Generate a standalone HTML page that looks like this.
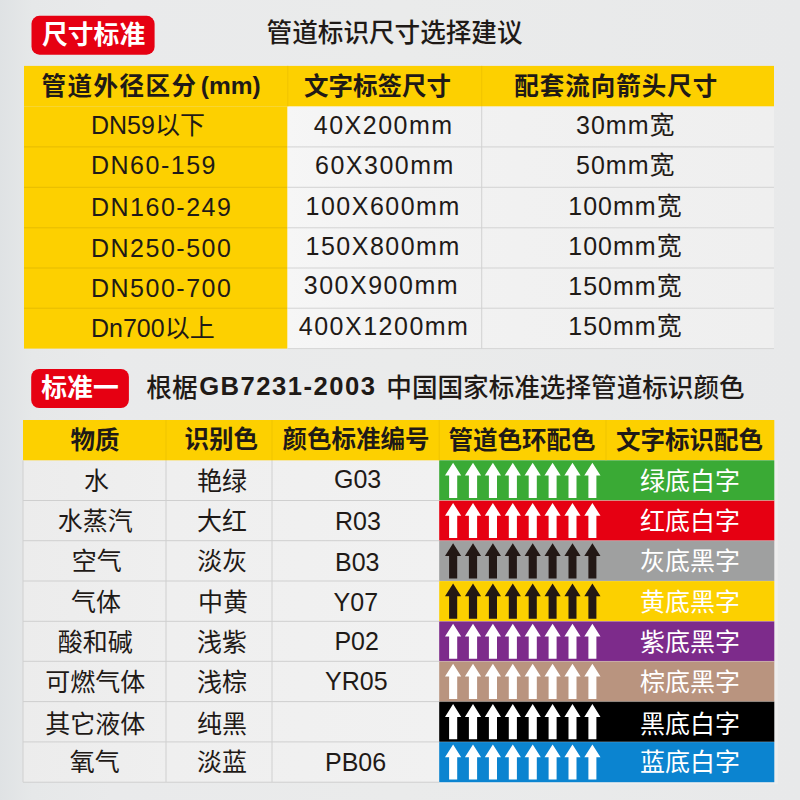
<!DOCTYPE html>
<html lang="zh-CN"><head><meta charset="utf-8"><title>管道标识尺寸选择建议</title>
<style>
html,body{margin:0;padding:0}
body{width:800px;height:800px;overflow:hidden;font-family:"Liberation Sans","Noto Sans CJK SC",sans-serif;background:#e9eaeb}
#page{position:relative;width:800px;height:800px;overflow:hidden;background:linear-gradient(90deg,#dfe2e4 0,#e6e8e9 4%,#e9eaeb 14%,#eaebeb 50%,#e8e9ea 100%)}
#page div,#page span{position:absolute;box-sizing:border-box}
.badge{background:#e60012;border-radius:8px}
.yel{background:#fdd000}
.cell{background:linear-gradient(90deg,#f6f6f6 0,#f2f2f2 25%,#f0f0f0 70%,#efefef 100%)}
.cell.c2{background:linear-gradient(90deg,#ececec 0,#efefef 35%,#f1f1f1 100%)}
.t{color:#1f1a17;white-space:nowrap;line-height:1;overflow:visible;font-family:"Liberation Sans","Noto Sans CJK SC",sans-serif}
.t.w{color:#fff}
#ink{position:absolute;left:0;top:0}
</style></head><body><div id="page">
<div class="cell" style="left:287.3px;top:106.3px;width:486.7px;height:242.3px"></div>
<div class="cell c2" style="left:23px;top:460.3px;width:416.2px;height:321.9px"></div>
<svg id="ink" width="800" height="800" viewBox="0 0 800 800">
<rect x="31.5" y="15.8" width="123.1" height="38.9" rx="8" fill="#e60012"/>
<rect x="31.2" y="368.9" width="97.7" height="39.2" rx="8" fill="#e60012"/>
<rect x="24" y="65.9" width="750" height="40.4" fill="#fdd000"/>
<rect x="24" y="106.3" width="263.3" height="242.3" fill="#fdd000"/>
<rect x="23" y="420" width="751.3" height="40.3" fill="#fdd000"/>
<rect x="439.2" y="460.3" width="338.6" height="323.9" fill="#eeeeee"/>
<rect x="439.2" y="460.3" width="335.1" height="40.2" fill="#3aaa35"/>
<rect x="439.2" y="500.5" width="335.1" height="40.2" fill="#e60012"/>
<rect x="439.2" y="540.7" width="335.1" height="40.3" fill="#9fa0a0"/>
<rect x="439.2" y="581" width="335.1" height="40.3" fill="#fcd000"/>
<rect x="439.2" y="621.3" width="335.1" height="40" fill="#7d2b8b"/>
<rect x="439.2" y="661.3" width="335.1" height="40.3" fill="#b9947f"/>
<rect x="439.2" y="701.6" width="335.1" height="40.3" fill="#000000"/>
<rect x="439.2" y="741.9" width="335.1" height="40.3" fill="#0b84d0"/>
<rect x="24" y="146.4" width="263.3" height="1" fill="#e6bc00"/>
<rect x="287.3" y="146.4" width="486.7" height="1" fill="#d3d3d3"/>
<rect x="24" y="186.8" width="263.3" height="1" fill="#e6bc00"/>
<rect x="287.3" y="186.8" width="486.7" height="1" fill="#d3d3d3"/>
<rect x="24" y="227.3" width="263.3" height="1" fill="#e6bc00"/>
<rect x="287.3" y="227.3" width="486.7" height="1" fill="#d3d3d3"/>
<rect x="24" y="267.5" width="263.3" height="1" fill="#e6bc00"/>
<rect x="287.3" y="267.5" width="486.7" height="1" fill="#d3d3d3"/>
<rect x="24" y="307.7" width="263.3" height="1" fill="#e6bc00"/>
<rect x="287.3" y="307.7" width="486.7" height="1" fill="#d3d3d3"/>
<rect x="287.3" y="348.1" width="486.7" height="1" fill="#d5d5d5"/>
<rect x="481.2" y="106.3" width="1" height="242.3" fill="#d2d2d2"/>
<rect x="287.3" y="65.9" width="1" height="40.4" fill="#f0c400"/>
<rect x="481.2" y="65.9" width="1" height="40.4" fill="#f0c400"/>
<rect x="23" y="500" width="416.2" height="1" fill="#cfcfcf"/>
<rect x="23" y="540.2" width="416.2" height="1" fill="#cfcfcf"/>
<rect x="23" y="580.5" width="416.2" height="1" fill="#cfcfcf"/>
<rect x="23" y="620.8" width="416.2" height="1" fill="#cfcfcf"/>
<rect x="23" y="660.8" width="416.2" height="1" fill="#cfcfcf"/>
<rect x="23" y="701.1" width="416.2" height="1" fill="#cfcfcf"/>
<rect x="23" y="741.4" width="416.2" height="1" fill="#cfcfcf"/>
<rect x="23" y="781.7" width="416.2" height="1" fill="#cfcfcf"/>
<rect x="22.5" y="460.3" width="1" height="321.9" fill="#d0d0d0"/>
<rect x="165.5" y="460.3" width="1" height="321.9" fill="#d0d0d0"/>
<rect x="271.5" y="460.3" width="1" height="321.9" fill="#d0d0d0"/>
<rect x="165.5" y="420" width="1" height="40.3" fill="#f0c400"/>
<rect x="271.5" y="420" width="1" height="40.3" fill="#f0c400"/>
<rect x="438.7" y="420" width="1" height="40.3" fill="#f0c400"/>
<rect x="605.5" y="420" width="1" height="40.3" fill="#f0c400"/>
<rect x="439.2" y="500" width="335.1" height="1" fill="rgba(255,255,255,.3)"/>
<rect x="439.2" y="540.2" width="335.1" height="1" fill="rgba(255,255,255,.18)"/>
<rect x="439.2" y="580.5" width="335.1" height="1" fill="rgba(255,255,255,.18)"/>
<rect x="439.2" y="620.8" width="335.1" height="1" fill="rgba(255,255,255,.18)"/>
<rect x="439.2" y="660.8" width="335.1" height="1" fill="rgba(255,255,255,.18)"/>
<rect x="439.2" y="701.1" width="335.1" height="1" fill="rgba(255,255,255,.18)"/>
<rect x="439.2" y="741.4" width="335.1" height="1" fill="rgba(255,255,255,.18)"/>
<path fill="#fff" d="M453.1 462.8L461.2 475.6H457.2V497.9H449.1V475.6H445.0Z"/>
<path fill="#fff" d="M473.0 462.8L481.1 475.6H477.1V497.9H468.9V475.6H464.9Z"/>
<path fill="#fff" d="M492.9 462.8L501.0 475.6H497.0V497.9H488.9V475.6H484.8Z"/>
<path fill="#fff" d="M512.8 462.8L520.9 475.6H516.9V497.9H508.8V475.6H504.7Z"/>
<path fill="#fff" d="M532.7 462.8L540.8 475.6H536.8V497.9H528.7V475.6H524.6Z"/>
<path fill="#fff" d="M552.6 462.8L560.7 475.6H556.6V497.9H548.6V475.6H544.5Z"/>
<path fill="#fff" d="M572.5 462.8L580.6 475.6H576.5V497.9H568.5V475.6H564.4Z"/>
<path fill="#fff" d="M592.4 462.8L600.5 475.6H596.4V497.9H588.4V475.6H584.3Z"/>
<path fill="#fff" d="M453.1 503.0L461.2 515.8H457.2V538.1H449.1V515.8H445.0Z"/>
<path fill="#fff" d="M473.0 503.0L481.1 515.8H477.1V538.1H468.9V515.8H464.9Z"/>
<path fill="#fff" d="M492.9 503.0L501.0 515.8H497.0V538.1H488.9V515.8H484.8Z"/>
<path fill="#fff" d="M512.8 503.0L520.9 515.8H516.9V538.1H508.8V515.8H504.7Z"/>
<path fill="#fff" d="M532.7 503.0L540.8 515.8H536.8V538.1H528.7V515.8H524.6Z"/>
<path fill="#fff" d="M552.6 503.0L560.7 515.8H556.6V538.1H548.6V515.8H544.5Z"/>
<path fill="#fff" d="M572.5 503.0L580.6 515.8H576.5V538.1H568.5V515.8H564.4Z"/>
<path fill="#fff" d="M592.4 503.0L600.5 515.8H596.4V538.1H588.4V515.8H584.3Z"/>
<path fill="#231815" d="M453.1 543.2L461.2 556.0H457.2V578.4H449.1V556.0H445.0Z"/>
<path fill="#231815" d="M473.0 543.2L481.1 556.0H477.1V578.4H468.9V556.0H464.9Z"/>
<path fill="#231815" d="M492.9 543.2L501.0 556.0H497.0V578.4H488.9V556.0H484.8Z"/>
<path fill="#231815" d="M512.8 543.2L520.9 556.0H516.9V578.4H508.8V556.0H504.7Z"/>
<path fill="#231815" d="M532.7 543.2L540.8 556.0H536.8V578.4H528.7V556.0H524.6Z"/>
<path fill="#231815" d="M552.6 543.2L560.7 556.0H556.6V578.4H548.6V556.0H544.5Z"/>
<path fill="#231815" d="M572.5 543.2L580.6 556.0H576.5V578.4H568.5V556.0H564.4Z"/>
<path fill="#231815" d="M592.4 543.2L600.5 556.0H596.4V578.4H588.4V556.0H584.3Z"/>
<path fill="#231815" d="M453.1 583.5L461.2 596.3H457.2V618.7H449.1V596.3H445.0Z"/>
<path fill="#231815" d="M473.0 583.5L481.1 596.3H477.1V618.7H468.9V596.3H464.9Z"/>
<path fill="#231815" d="M492.9 583.5L501.0 596.3H497.0V618.7H488.9V596.3H484.8Z"/>
<path fill="#231815" d="M512.8 583.5L520.9 596.3H516.9V618.7H508.8V596.3H504.7Z"/>
<path fill="#231815" d="M532.7 583.5L540.8 596.3H536.8V618.7H528.7V596.3H524.6Z"/>
<path fill="#231815" d="M552.6 583.5L560.7 596.3H556.6V618.7H548.6V596.3H544.5Z"/>
<path fill="#231815" d="M572.5 583.5L580.6 596.3H576.5V618.7H568.5V596.3H564.4Z"/>
<path fill="#231815" d="M592.4 583.5L600.5 596.3H596.4V618.7H588.4V596.3H584.3Z"/>
<path fill="#fff" d="M453.1 623.8L461.2 636.6H457.2V658.7H449.1V636.6H445.0Z"/>
<path fill="#fff" d="M473.0 623.8L481.1 636.6H477.1V658.7H468.9V636.6H464.9Z"/>
<path fill="#fff" d="M492.9 623.8L501.0 636.6H497.0V658.7H488.9V636.6H484.8Z"/>
<path fill="#fff" d="M512.8 623.8L520.9 636.6H516.9V658.7H508.8V636.6H504.7Z"/>
<path fill="#fff" d="M532.7 623.8L540.8 636.6H536.8V658.7H528.7V636.6H524.6Z"/>
<path fill="#fff" d="M552.6 623.8L560.7 636.6H556.6V658.7H548.6V636.6H544.5Z"/>
<path fill="#fff" d="M572.5 623.8L580.6 636.6H576.5V658.7H568.5V636.6H564.4Z"/>
<path fill="#fff" d="M592.4 623.8L600.5 636.6H596.4V658.7H588.4V636.6H584.3Z"/>
<path fill="#fff" d="M453.1 663.8L461.2 676.6H457.2V699.0H449.1V676.6H445.0Z"/>
<path fill="#fff" d="M473.0 663.8L481.1 676.6H477.1V699.0H468.9V676.6H464.9Z"/>
<path fill="#fff" d="M492.9 663.8L501.0 676.6H497.0V699.0H488.9V676.6H484.8Z"/>
<path fill="#fff" d="M512.8 663.8L520.9 676.6H516.9V699.0H508.8V676.6H504.7Z"/>
<path fill="#fff" d="M532.7 663.8L540.8 676.6H536.8V699.0H528.7V676.6H524.6Z"/>
<path fill="#fff" d="M552.6 663.8L560.7 676.6H556.6V699.0H548.6V676.6H544.5Z"/>
<path fill="#fff" d="M572.5 663.8L580.6 676.6H576.5V699.0H568.5V676.6H564.4Z"/>
<path fill="#fff" d="M592.4 663.8L600.5 676.6H596.4V699.0H588.4V676.6H584.3Z"/>
<path fill="#fff" d="M453.1 704.1L461.2 716.9H457.2V739.3H449.1V716.9H445.0Z"/>
<path fill="#fff" d="M473.0 704.1L481.1 716.9H477.1V739.3H468.9V716.9H464.9Z"/>
<path fill="#fff" d="M492.9 704.1L501.0 716.9H497.0V739.3H488.9V716.9H484.8Z"/>
<path fill="#fff" d="M512.8 704.1L520.9 716.9H516.9V739.3H508.8V716.9H504.7Z"/>
<path fill="#fff" d="M532.7 704.1L540.8 716.9H536.8V739.3H528.7V716.9H524.6Z"/>
<path fill="#fff" d="M552.6 704.1L560.7 716.9H556.6V739.3H548.6V716.9H544.5Z"/>
<path fill="#fff" d="M572.5 704.1L580.6 716.9H576.5V739.3H568.5V716.9H564.4Z"/>
<path fill="#fff" d="M592.4 704.1L600.5 716.9H596.4V739.3H588.4V716.9H584.3Z"/>
<path fill="#fff" d="M453.1 744.4L461.2 757.2H457.2V779.6H449.1V757.2H445.0Z"/>
<path fill="#fff" d="M473.0 744.4L481.1 757.2H477.1V779.6H468.9V757.2H464.9Z"/>
<path fill="#fff" d="M492.9 744.4L501.0 757.2H497.0V779.6H488.9V757.2H484.8Z"/>
<path fill="#fff" d="M512.8 744.4L520.9 757.2H516.9V779.6H508.8V757.2H504.7Z"/>
<path fill="#fff" d="M532.7 744.4L540.8 757.2H536.8V779.6H528.7V757.2H524.6Z"/>
<path fill="#fff" d="M552.6 744.4L560.7 757.2H556.6V779.6H548.6V757.2H544.5Z"/>
<path fill="#fff" d="M572.5 744.4L580.6 757.2H576.5V779.6H568.5V757.2H564.4Z"/>
<path fill="#fff" d="M592.4 744.4L600.5 757.2H596.4V779.6H588.4V757.2H584.3Z"/>
</svg>
<span class="t w" style="left:42px;top:22.7px;width:104px;height:25.8px;font-size:25.8px;font-weight:bold">尺寸标准</span>
<span class="t w" style="left:41.3px;top:375.9px;width:77.4px;height:25.8px;font-size:25.8px;font-weight:bold">标准一</span>
<span class="t" style="left:266.6px;top:21px;width:264.4px;height:25.6px;font-size:25.6px;font-weight:500">管道标识尺寸选择建议</span>
<span class="t" style="left:146.3px;top:375.6px;width:50.7px;height:25.6px;font-size:25.6px;font-weight:500">根椐</span>
<span class="t" style="left:199.2px;top:374.2px;width:183px;height:25.6px;font-size:25.6px;font-weight:bold;letter-spacing:1.5px">GB7231-2003</span>
<span class="t" style="left:386.3px;top:375.7px;width:368px;height:25.6px;font-size:25.6px;font-weight:500">中国国家标准选择管道标识颜色</span>
<span class="t" style="left:41.4px;top:74.6px;width:157.6px;height:24.5px;font-size:24.5px;font-weight:bold;letter-spacing:1.5px">管道外径区分</span>
<span class="t" style="left:200.8px;top:73.7px;width:71.2px;height:24.5px;font-size:24.5px;font-weight:bold">(mm)</span>
<span class="t" style="left:304px;top:74.6px;width:150px;height:24.5px;font-size:24.5px;font-weight:bold">文字标签尺寸</span>
<span class="t" style="left:514.2px;top:74.6px;width:203.8px;height:24.5px;font-size:24.5px;font-weight:bold;letter-spacing:1px">配套流向箭头尺寸</span>
<span class="t" style="left:91px;top:113px;width:119.3px;height:25px;font-size:25px;font-weight:normal">DN59以下</span>
<span class="t" style="left:313.8px;top:112.8px;width:142.2px;height:25px;font-size:25px;font-weight:normal;letter-spacing:1.5px">40X200mm</span>
<span class="t" style="left:576px;top:112.8px;width:101px;height:25px;font-size:25px;font-weight:normal;letter-spacing:1px">30mm宽</span>
<span class="t" style="left:91px;top:153px;width:126.8px;height:25px;font-size:25px;font-weight:normal;letter-spacing:1.5px">DN60-159</span>
<span class="t" style="left:315px;top:153px;width:141px;height:25px;font-size:25px;font-weight:normal;letter-spacing:1.5px">60X300mm</span>
<span class="t" style="left:576px;top:152.8px;width:101px;height:25px;font-size:25px;font-weight:normal;letter-spacing:1px">50mm宽</span>
<span class="t" style="left:91px;top:195.3px;width:142.4px;height:25px;font-size:25px;font-weight:normal;letter-spacing:1.5px">DN160-249</span>
<span class="t" style="left:305.5px;top:193.8px;width:155px;height:25px;font-size:25px;font-weight:normal;letter-spacing:1.5px">100X600mm</span>
<span class="t" style="left:568.3px;top:194px;width:115.5px;height:25px;font-size:25px;font-weight:normal;letter-spacing:1px">100mm宽</span>
<span class="t" style="left:91px;top:235.5px;width:142.4px;height:25px;font-size:25px;font-weight:normal;letter-spacing:1.5px">DN250-500</span>
<span class="t" style="left:305.5px;top:234.2px;width:155px;height:25px;font-size:25px;font-weight:normal;letter-spacing:1.5px">150X800mm</span>
<span class="t" style="left:568.3px;top:233.8px;width:115.5px;height:25px;font-size:25px;font-weight:normal;letter-spacing:1px">100mm宽</span>
<span class="t" style="left:91px;top:275.5px;width:142.4px;height:25px;font-size:25px;font-weight:normal;letter-spacing:1.5px">DN500-700</span>
<span class="t" style="left:303.8px;top:273.3px;width:156.7px;height:25px;font-size:25px;font-weight:normal;letter-spacing:1.5px">300X900mm</span>
<span class="t" style="left:568.3px;top:274.4px;width:115.5px;height:25px;font-size:25px;font-weight:normal;letter-spacing:1px">150mm宽</span>
<span class="t" style="left:91px;top:315.5px;width:128px;height:25px;font-size:25px;font-weight:normal">Dn700以上</span>
<span class="t" style="left:298.8px;top:313.8px;width:172.4px;height:25px;font-size:25px;font-weight:normal;letter-spacing:1.5px">400X1200mm</span>
<span class="t" style="left:568.3px;top:314.2px;width:115.5px;height:25px;font-size:25px;font-weight:normal;letter-spacing:1px">150mm宽</span>
<span class="t" style="left:70.6px;top:428.5px;width:47.4px;height:24.5px;font-size:24.5px;font-weight:bold">物质</span>
<span class="t" style="left:184.4px;top:428.4px;width:74.6px;height:24.5px;font-size:24.5px;font-weight:bold">识别色</span>
<span class="t" style="left:282.5px;top:428.4px;width:150.5px;height:24.5px;font-size:24.5px;font-weight:bold">颜色标准编号</span>
<span class="t" style="left:448.5px;top:428.5px;width:150.9px;height:24.5px;font-size:24.5px;font-weight:bold">管道色环配色</span>
<span class="t" style="left:616px;top:428.5px;width:151px;height:24.5px;font-size:24.5px;font-weight:bold">文字标识配色</span>
<span class="t" style="left:84.1px;top:468.9px;width:23px;height:25px;font-size:25px;font-weight:normal">水</span>
<span class="t" style="left:197px;top:469.1px;width:48.6px;height:25px;font-size:25px;font-weight:normal">艳绿</span>
<span class="t" style="left:334px;top:467.2px;width:47.6px;height:25px;font-size:25px;font-weight:normal">G03</span>
<span class="t w" style="left:640px;top:468.9px;width:100px;height:25px;font-size:25px;font-weight:normal">绿底白字</span>
<span class="t" style="left:57.8px;top:509px;width:75.2px;height:25px;font-size:25px;font-weight:normal">水蒸汽</span>
<span class="t" style="left:197.1px;top:509.1px;width:48.4px;height:25px;font-size:25px;font-weight:normal">大红</span>
<span class="t" style="left:335px;top:509px;width:44px;height:25px;font-size:25px;font-weight:normal">R03</span>
<span class="t w" style="left:640px;top:509.1px;width:100px;height:25px;font-size:25px;font-weight:normal">红底白字</span>
<span class="t" style="left:71.7px;top:549.4px;width:47.8px;height:25px;font-size:25px;font-weight:normal">空气</span>
<span class="t" style="left:197.2px;top:549.4px;width:48.2px;height:25px;font-size:25px;font-weight:normal">淡灰</span>
<span class="t" style="left:335px;top:550px;width:44px;height:25px;font-size:25px;font-weight:normal">B03</span>
<span class="t w" style="left:640px;top:549.4px;width:100px;height:25px;font-size:25px;font-weight:normal">灰底黑字</span>
<span class="t" style="left:71px;top:589.7px;width:49.2px;height:25px;font-size:25px;font-weight:normal">气体</span>
<span class="t" style="left:197.9px;top:589.6px;width:46.8px;height:25px;font-size:25px;font-weight:normal">中黄</span>
<span class="t" style="left:333.6px;top:589.6px;width:43.4px;height:25px;font-size:25px;font-weight:normal">Y07</span>
<span class="t w" style="left:640px;top:589.7px;width:100px;height:25px;font-size:25px;font-weight:normal">黄底黑字</span>
<span class="t" style="left:57.8px;top:630.2px;width:75.2px;height:25px;font-size:25px;font-weight:normal">酸和碱</span>
<span class="t" style="left:197.1px;top:630.2px;width:48.4px;height:25px;font-size:25px;font-weight:normal">浅紫</span>
<span class="t" style="left:334.4px;top:629px;width:44px;height:25px;font-size:25px;font-weight:normal">P02</span>
<span class="t w" style="left:640px;top:630.2px;width:100px;height:25px;font-size:25px;font-weight:normal">紫底黑字</span>
<span class="t" style="left:45.3px;top:670.4px;width:100.2px;height:25px;font-size:25px;font-weight:normal">可燃气体</span>
<span class="t" style="left:197px;top:670.4px;width:48.6px;height:25px;font-size:25px;font-weight:normal">浅棕</span>
<span class="t" style="left:325px;top:669px;width:62px;height:25px;font-size:25px;font-weight:normal">YR05</span>
<span class="t w" style="left:640px;top:670.4px;width:100px;height:25px;font-size:25px;font-weight:normal">棕底黑字</span>
<span class="t" style="left:45.3px;top:711.6px;width:100.2px;height:25px;font-size:25px;font-weight:normal">其它液体</span>
<span class="t" style="left:197.1px;top:711.5px;width:48.4px;height:25px;font-size:25px;font-weight:normal">纯黑</span>
<span class="t w" style="left:640px;top:711.6px;width:100px;height:25px;font-size:25px;font-weight:normal">黑底白字</span>
<span class="t" style="left:69.7px;top:750px;width:49px;height:25px;font-size:25px;font-weight:normal">氧气</span>
<span class="t" style="left:197px;top:749.9px;width:48.6px;height:25px;font-size:25px;font-weight:normal">淡蓝</span>
<span class="t" style="left:325px;top:749.6px;width:62px;height:25px;font-size:25px;font-weight:normal">PB06</span>
<span class="t w" style="left:640px;top:750px;width:100px;height:25px;font-size:25px;font-weight:normal">蓝底白字</span>
</div></body></html>
